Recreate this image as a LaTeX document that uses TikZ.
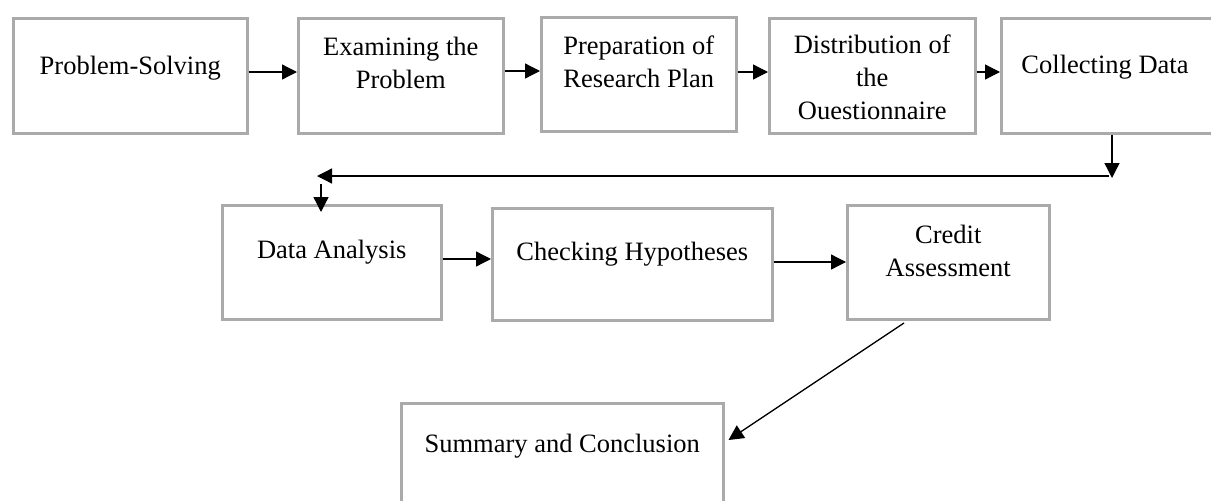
\documentclass[tikz,border=0pt]{standalone}
\usepackage{fontspec}
\setmainfont{Liberation Serif}
\usetikzlibrary{arrows.meta,calc}
\definecolor{boxgray}{RGB}{170,170,170}
\begin{document}
\begin{tikzpicture}[x=1pt,y=1pt,
  box/.style={draw=boxgray, line width=2.5pt, rectangle, inner sep=0pt, anchor=north west},
  txt/.style={font=\fontsize{26.5}{33}\selectfont, align=center, anchor=base, inner sep=0pt},
  arr/.style={line width=1.3pt, -{Triangle[length=15pt,width=15pt]}}]
\useasboundingbox (0,0) rectangle (1211,-501);
\clip (0,0) rectangle (1211,-501);
% boxes
\node[box, minimum width=234pt, minimum height=115pt] (b1) at (12,-17) {};
\node[box, minimum width=205pt, minimum height=115pt] (b2) at (297,-17) {};
\node[box, minimum width=195pt, minimum height=114pt] (b3) at (540,-16) {};
\node[box, minimum width=206pt, minimum height=115pt] (b4) at (768,-17) {};
\node[box, minimum width=214pt, minimum height=115pt] (b5) at (1000,-17) {};
\node[box, minimum width=219pt, minimum height=114pt] (b6) at (221,-204) {};
\node[box, minimum width=280pt, minimum height=112pt] (b7) at (491,-207) {};
\node[box, minimum width=202pt, minimum height=114pt] (b8) at (846,-204) {};
\node[box, minimum width=322pt, minimum height=130pt] (b9) at (400,-402) {};
% texts (anchor=base is the last line's baseline)
\node[txt] (t1) at ($(b1.north)+(0,-57)$) {Problem-Solving};
\node[txt] (t2) at ($(b2.north)+(0,-71)$) {Examining the\\Problem};
\node[txt] (t3) at ($(b3.north)+(0,-71)$) {Preparation of\\Research Plan};
\node[txt] (t4) at ($(b4.north)+(0,-102)$) {Distribution of\\the\\Ouestionnaire};
\node[txt] (t5) at (1105,-73) {Collecting Data};
\node[txt] (t6) at ($(b6.north)+(0,-54)$) {Data Analysis};
\node[txt] (t7) at ($(b7.north)+(0,-53)$) {Checking Hypotheses};
\node[txt] (t8) at ($(b8.north)+(0,-72)$) {Credit\\Assessment};
\node[txt] (t9) at ($(b9.north)+(0,-50)$) {Summary and Conclusion};
% connectors
\draw[arr] (b1.east |- 0,-72) -- (b2.west |- 0,-72);
\draw[arr] (b2.east |- 0,-71) -- (b3.west |- 0,-71);
\draw[arr] (b3.east |- 0,-72) -- (b4.west |- 0,-72);
\draw[arr] (b4.east |- 0,-72) -- (b5.west |- 0,-72);
\coordinate (turn) at (1112,-178);
\coordinate (hr) at (1109,-176);
\coordinate (hl) at (317,-176);
\coordinate (dt) at (321,-184);
\draw[arr] (b5.south -| turn) -- (turn);
\draw[arr] (hr) -- (hl);
\draw[arr] (dt) -- ($(b6.north -| dt)+(0,-8)$);
\draw[arr] (b6.east |- 0,-259) -- (b7.west |- 0,-259);
\draw[arr] (b7.east |- 0,-262) -- (b8.west |- 0,-262);
\coordinate (ds) at (904,-323);
\draw[arr] (ds) -- ($(b9.north east)+(4,-38)$);
\end{tikzpicture}
\end{document}
